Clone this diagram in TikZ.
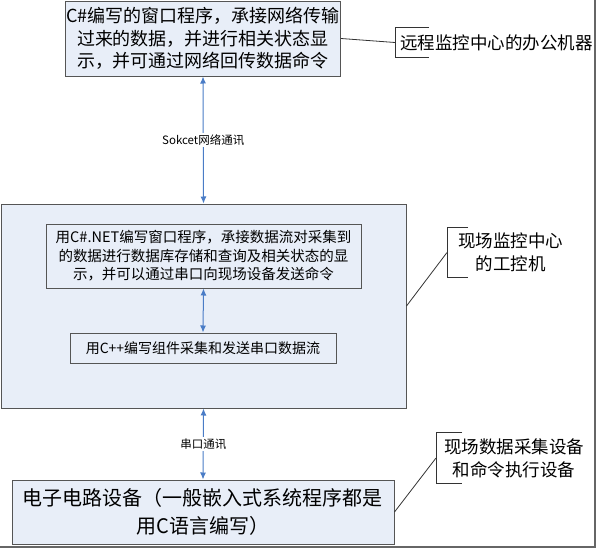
\documentclass[tikz,border=0pt]{standalone}
\usepackage{fontspec}
\setmainfont{Noto Sans CJK SC}
\usetikzlibrary{arrows.meta}
\definecolor{panelblue}{RGB}{232,238,248}
\definecolor{linkblue}{RGB}{74,124,198}
\definecolor{edgegray}{RGB}{85,85,85}

\begin{document}
\begin{tikzpicture}[x=1pt, y=-1pt,
    box/.style={draw=edgegray, fill=panelblue, line width=1pt, align=center, inner sep=0pt},
    link/.style={{Latex[length=7pt,width=6pt]}-{Latex[length=7pt,width=6pt]}, draw=linkblue, line width=1pt},
    tag/.style={fill=white, inner sep=1.5pt, font=\fontsize{11.5}{13}\selectfont},
    note/.style={anchor=west, align=center, inner ysep=0pt, font=\fontsize{17.5}{23}\selectfont},
    pin/.style={draw=black!80, line width=0.8pt}
  ]
  \useasboundingbox (0,0) rectangle (598,549);

  % remote office machine
  \node[box, minimum width=275pt, minimum height=75pt, font=\fontsize{18}{22.5}\selectfont] (office) at (203,38.5) {
    C\#编写的窗口程序，承接网络传输\\
    过来的数据，并进行相关状态显\\
    示，并可通过网络回传数据命令};

  % on-site industrial PC
  \node[box, minimum width=405pt, minimum height=204pt] (ipc) at (203.5,306) {};
  \node[box, minimum width=315pt, minimum height=64pt, font=\fontsize{14.5}{18.5}\selectfont] (dbapp) at (203.5,256) {
    用C\#.NET编写窗口程序，承接数据流对采集到\\
    的数据进行数据库存储和查询及相关状态的显\\
    示，并可以通过串口向现场设备发送命令};
  \node[box, minimum width=266pt, minimum height=30pt, font=\fontsize{14}{17}\selectfont] (serial) at (203,348) {
    用C++编写组件采集和发送串口数据流};

  % embedded device
  \node[box, minimum width=382pt, minimum height=64pt, font=\fontsize{20}{27.5}\selectfont] (device) at (203,512) {
    电子电路设备（一般嵌入式系统程序都是\\
    用C语言编写）};

  \draw[link] (office.south) -- node[tag] (socketlbl) {Sokcet网络通讯} (ipc.north);
  \draw[link] (dbapp.south) -- (serial.north);
  \draw[link] (ipc.south) -- node[tag] (comlbl) {串口通讯} (device.north);

  % side notes
  \node[note, minimum height=29pt, inner xsep=5pt] (officetag) at (395,42.5) {远程监控中心的办公机器};
  \node[note, minimum height=49pt, inner xsep=11pt] (ipctag) at (447,252.5) {现场监控中心\\的工控机};
  \node[note, minimum height=50pt, inner xsep=8pt] (devicetag) at (436,458) {现场数据采集设备\\和命令执行设备};

  \draw[pin] ([xshift=34pt]officetag.north west) -| (officetag.south west) -- ([xshift=34pt]officetag.south west);
  \draw[pin] ([xshift=21pt]ipctag.north west) -| (ipctag.south west) -- ([xshift=21pt]ipctag.south west);
  \draw[pin] ([xshift=26pt]devicetag.north west) -| (devicetag.south west) -- ([xshift=26pt]devicetag.south west);

  \draw[pin] (office.east) -- (officetag.west);
  \draw[pin] (ipc.east) -- (ipctag.west);
  \draw[pin] (device.east) -- (devicetag.west);

  % page frame
  \draw[black!60, line width=1.5pt] (595,0) -- (595,547) -- (0,547);
\end{tikzpicture}
\end{document}
